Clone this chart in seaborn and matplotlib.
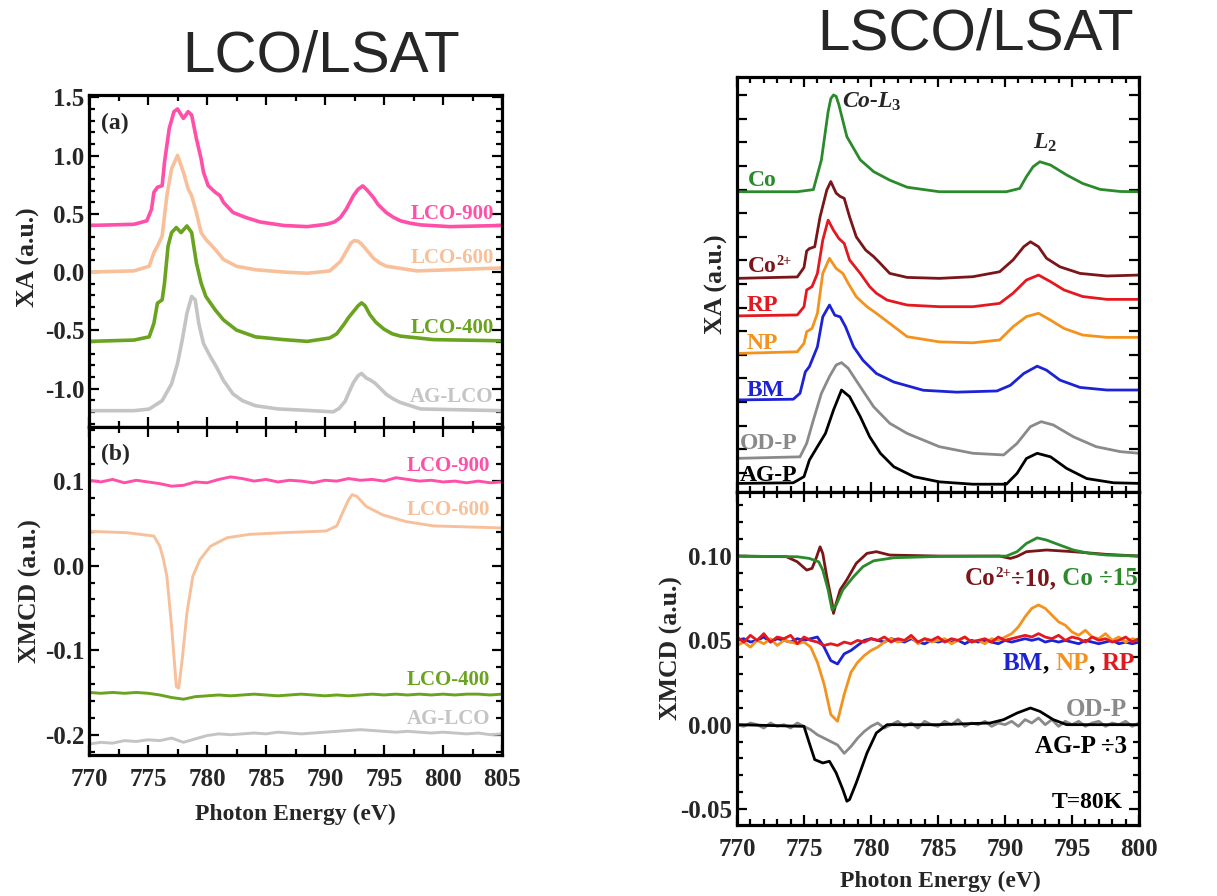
import numpy as np
import matplotlib
matplotlib.use("Agg")
import matplotlib.pyplot as plt
from matplotlib.ticker import MultipleLocator, FormatStrFormatter, FixedLocator
import seaborn as sns

'''
Co L-edge XA / XMCD of LCO/LSAT and LSCO/LSAT films
'''

#%% ---------------- data: panel (a), LCO/LSAT XA ----------------
e_900a = [770, 773.8, 774.9, 775.3, 775.5, 775.8, 776.2, 776.4, 776.8, 777.2, 777.5, 778.0, 778.4, 778.7,
          779.1, 779.5, 779.7, 780.1, 780.7, 781.1, 781.4, 782.2, 783.3, 784.5, 786.5, 788.5, 790.1, 790.8,
          791.3, 791.8, 792.4, 792.8, 793.2, 793.6, 794.1, 794.5, 795.2, 795.8, 796.4, 797.2, 798.1, 800.6, 805]
xa_900 = [0.40, 0.41, 0.44, 0.54, 0.685, 0.728, 0.742, 0.944, 1.233, 1.377, 1.40, 1.319, 1.377, 1.348,
          1.146, 0.973, 0.858, 0.742, 0.685, 0.656, 0.598, 0.512, 0.468, 0.43, 0.40, 0.39, 0.41, 0.43,
          0.468, 0.54, 0.655, 0.71, 0.74, 0.70, 0.64, 0.58, 0.51, 0.47, 0.44, 0.42, 0.405, 0.39, 0.40]

e_600a = [770, 773.8, 775.1, 775.5, 775.8, 776.2, 776.6, 777.0, 777.5, 778.0, 778.4, 778.7, 779.1, 779.5,
          779.9, 780.7, 781.4, 782.5, 784.1, 786.5, 788.5, 790.4, 791.3, 791.7, 792.2, 792.5, 792.8, 793.1,
          793.6, 794.1, 794.6, 795.2, 797.8, 805]
xa_600 = [0.0, 0.01, 0.05, 0.166, 0.223, 0.31, 0.656, 0.887, 1.002, 0.858, 0.714, 0.656, 0.512, 0.339,
          0.281, 0.194, 0.108, 0.05, 0.02, 0.0, -0.01, 0.01, 0.09, 0.16, 0.25, 0.27, 0.265, 0.24,
          0.18, 0.12, 0.08, 0.05, 0.01, 0.035]

e_400a = [770, 773.8, 775.1, 775.5, 775.8, 776.2, 776.4, 776.7, 777.0, 777.4, 777.8, 778.3, 778.7, 779.1,
          779.5, 779.9, 780.7, 781.4, 782.5, 784.1, 786.5, 788.5, 790.4, 791.0, 791.6, 792.0, 792.4, 792.8,
          793.1, 793.4, 793.8, 794.3, 795.0, 795.7, 796.4, 799.2, 805]
xa_400 = [-0.595, -0.584, -0.556, -0.44, -0.267, -0.238, -0.094, 0.223, 0.339, 0.382, 0.339, 0.396, 0.339, 0.079,
          -0.094, -0.209, -0.325, -0.411, -0.498, -0.556, -0.58, -0.595, -0.566, -0.53, -0.45, -0.39, -0.34, -0.29,
          -0.264, -0.29, -0.365, -0.43, -0.49, -0.53, -0.55, -0.58, -0.59]

e_aga = [770, 773.8, 775.1, 776.2, 777.0, 777.5, 777.9, 778.3, 778.7, 779.0, 779.3, 779.7, 780.3, 780.8,
         781.4, 782.2, 783.0, 784.1, 786.0, 788.0, 790.7, 791.2, 791.7, 792.0, 792.4, 792.8, 793.1, 793.5,
         793.8, 794.2, 794.7, 795.2, 795.8, 796.4, 798.1, 805]
xa_ag = [-1.19, -1.19, -1.176, -1.104, -0.959, -0.786, -0.584, -0.354, -0.209, -0.238, -0.44, -0.613, -0.729, -0.815,
         -0.931, -1.046, -1.104, -1.147, -1.175, -1.185, -1.20, -1.17, -1.11, -1.04, -0.95, -0.89, -0.87, -0.91,
         -0.925, -0.95, -1.0, -1.05, -1.09, -1.12, -1.175, -1.19]

#%% ---------------- data: panel (b), LCO/LSAT XMCD ----------------
e_b = np.arange(770, 805.5, 1.0)   # 1 eV sampling
mcd_900 = [0.101, 0.099, 0.102, 0.098, 0.101, 0.099, 0.097, 0.094, 0.095, 0.099, 0.098, 0.102,
           0.105, 0.103, 0.100, 0.102, 0.099, 0.101, 0.100, 0.098, 0.101, 0.100, 0.103, 0.101,
           0.102, 0.100, 0.104, 0.102, 0.100, 0.101, 0.099, 0.100, 0.098, 0.100, 0.098, 0.099]
mcd_400 = [-0.150, -0.151, -0.150, -0.151, -0.150, -0.151, -0.153, -0.156, -0.158, -0.155, -0.154, -0.153,
           -0.154, -0.153, -0.152, -0.153, -0.154, -0.153, -0.152, -0.153, -0.154, -0.153, -0.154, -0.153,
           -0.152, -0.153, -0.152, -0.153, -0.152, -0.153, -0.152, -0.153, -0.152, -0.152, -0.153, -0.152]
mcd_ag = [-0.211, -0.209, -0.210, -0.207, -0.208, -0.206, -0.207, -0.204, -0.209, -0.205, -0.201, -0.199,
          -0.200, -0.199, -0.198, -0.199, -0.197, -0.198, -0.199, -0.198, -0.197, -0.196, -0.195, -0.194,
          -0.195, -0.196, -0.197, -0.196, -0.197, -0.198, -0.197, -0.198, -0.199, -0.198, -0.200, -0.199]
e_600b = [770, 773.2, 775.5, 776.0, 776.3, 776.6, 777.0, 777.4, 777.6, 777.9, 778.3, 778.8, 779.4, 780.3,
          781.7, 783.6, 786.5, 790.1, 791.0, 791.6, 792.0, 792.3, 792.7, 793.5, 794.9, 796.9, 799.2, 805]
mcd_600 = [0.0406, 0.039, 0.035, 0.023, 0.008, -0.0126, -0.072, -0.143, -0.145, -0.111, -0.056, -0.0126,
           0.007, 0.023, 0.033, 0.037, 0.039, 0.041, 0.047, 0.066, 0.078, 0.084, 0.082, 0.070, 0.060,
           0.052, 0.047, 0.0446]

#%% ---------------- data: LSCO/LSAT XA (arb. offsets) ----------------
e_co = [770, 774.5, 775.7, 776.3, 776.8, 777.0, 777.2, 777.4, 777.6, 778.2, 779.2, 780.2, 781.4, 782.7,
        785.1, 790.1, 791.1, 791.6, 792.1, 792.6, 793.4, 794.6, 795.8, 797.1, 798.6, 800]
xa_co = [1.251, 1.251, 1.26, 1.386, 1.59, 1.645, 1.661, 1.655, 1.62, 1.484, 1.386, 1.336, 1.30, 1.27,
         1.251, 1.251, 1.265, 1.315, 1.357, 1.378, 1.364, 1.322, 1.286, 1.261, 1.252, 1.251]

e_co2 = [770, 774.5, 775.0, 775.2, 775.4, 775.8, 776.2, 776.7, 777.0, 777.4, 777.7, 778.0, 778.4, 778.9,
         779.6, 780.2, 780.7, 781.4, 782.7, 785.1, 787.6, 789.6, 790.6, 791.4, 791.9, 792.5, 793.1, 794.1,
         795.6, 797.6, 800]
xa_co2 = [0.884, 0.89, 0.93, 1.0, 1.01, 1.018, 1.145, 1.258, 1.294, 1.245, 1.231, 1.223, 1.145, 1.06,
          1.004, 0.976, 0.947, 0.905, 0.888, 0.884, 0.891, 0.912, 0.962, 1.018, 1.039, 1.018, 0.969, 0.933,
          0.905, 0.894, 0.898]

e_rp = [770, 774.5, 775.0, 775.2, 775.6, 776.0, 776.4, 776.8, 777.2, 777.6, 778.0, 778.4, 779.2, 779.9,
        780.4, 781.2, 782.7, 785.1, 787.6, 789.6, 790.6, 791.6, 792.5, 793.4, 794.4, 795.8, 797.6, 800]
xa_rp = [0.725, 0.729, 0.764, 0.835, 0.849, 0.905, 1.046, 1.131, 1.088, 1.053, 1.032, 0.962, 0.905, 0.849,
         0.821, 0.792, 0.771, 0.764, 0.764, 0.778, 0.821, 0.877, 0.898, 0.870, 0.835, 0.807, 0.795, 0.795]

e_np = [770, 774.5, 775.0, 775.2, 775.6, 776.0, 776.4, 776.9, 777.4, 777.9, 778.3, 778.9, 779.7, 780.4,
        781.4, 782.7, 785.1, 787.6, 789.6, 790.6, 791.6, 792.5, 793.4, 794.4, 795.8, 797.6, 800]
xa_np = [0.566, 0.573, 0.609, 0.658, 0.672, 0.736, 0.905, 0.969, 0.926, 0.905, 0.863, 0.806, 0.764, 0.736,
         0.693, 0.637, 0.615, 0.611, 0.623, 0.679, 0.722, 0.736, 0.707, 0.672, 0.644, 0.634, 0.634]

e_bm = [770, 774.2, 774.7, 775.1, 775.4, 776.0, 776.4, 776.9, 777.3, 777.7, 778.1, 778.7, 779.4, 780.4,
        781.7, 783.9, 786.4, 789.4, 790.4, 791.4, 792.4, 793.1, 794.1, 795.6, 797.6, 800]
xa_bm = [0.369, 0.372, 0.397, 0.488, 0.51, 0.594, 0.721, 0.771, 0.728, 0.721, 0.679, 0.594, 0.537, 0.481,
         0.445, 0.41, 0.402, 0.407, 0.431, 0.481, 0.512, 0.495, 0.453, 0.422, 0.411, 0.411]

e_od = [770, 774.7, 775.2, 775.7, 776.3, 776.9, 777.4, 777.8, 778.3, 779.2, 780.2, 781.4, 782.7, 785.1,
        787.6, 789.9, 790.9, 791.9, 792.7, 793.6, 795.1, 796.8, 798.6, 800]
xa_od = [0.1215, 0.128, 0.185, 0.284, 0.397, 0.468, 0.517, 0.527, 0.503, 0.425, 0.34, 0.27, 0.227, 0.171,
         0.143, 0.136, 0.185, 0.256, 0.277, 0.263, 0.213, 0.171, 0.15, 0.143]

e_agp = [770, 774.2, 775.0, 775.4, 776.0, 776.6, 777.2, 777.8, 778.4, 779.2, 779.9, 780.7, 781.7, 783.2,
         785.1, 787.6, 790.1, 790.9, 791.6, 792.4, 793.4, 794.6, 796.1, 798.1, 800]
xa_agp = [0.0155, 0.018, 0.044, 0.114, 0.171, 0.227, 0.326, 0.411, 0.383, 0.298, 0.213, 0.143, 0.086, 0.044,
          0.022, 0.012, 0.012, 0.058, 0.121, 0.143, 0.128, 0.079, 0.036, 0.018, 0.0155]

#%% ---------------- data: LSCO/LSAT XMCD ----------------
e_d = np.arange(770, 800.25, 0.5)   # 0.5 eV sampling
mcd_rp = [0.052, 0.049, 0.053, 0.050, 0.054, 0.049, 0.052, 0.051, 0.053, 0.048, 0.052,
          0.050, 0.049, 0.047, 0.048, 0.047, 0.049, 0.048, 0.050, 0.049, 0.051,
          0.050, 0.052, 0.049, 0.051, 0.050, 0.053, 0.049, 0.051, 0.050, 0.052,
          0.049, 0.051, 0.050, 0.052, 0.049, 0.050, 0.051, 0.049, 0.052, 0.050,
          0.051, 0.052, 0.053, 0.052, 0.054, 0.052, 0.051, 0.053, 0.050, 0.052,
          0.051, 0.049, 0.052, 0.050, 0.051, 0.049, 0.050, 0.052, 0.049, 0.051]
mcd_bm = [0.050, 0.051, 0.049, 0.050, 0.052, 0.049, 0.051, 0.050, 0.049, 0.051, 0.050,
          0.051, 0.052, 0.046, 0.038, 0.036, 0.042, 0.044, 0.047, 0.050, 0.051,
          0.050, 0.049, 0.051, 0.050, 0.049, 0.051, 0.049, 0.048, 0.050, 0.049,
          0.050, 0.049, 0.050, 0.048, 0.050, 0.049, 0.050, 0.049, 0.048, 0.050,
          0.049, 0.050, 0.051, 0.050, 0.051, 0.049, 0.050, 0.049, 0.050, 0.049,
          0.048, 0.050, 0.049, 0.048, 0.049, 0.050, 0.048, 0.049, 0.048, 0.049]
mcd_np = [0.047, 0.049, 0.046, 0.050, 0.048, 0.051, 0.047, 0.050, 0.049, 0.048, 0.049,
          0.046, 0.037, 0.024, 0.006, 0.002, 0.018, 0.031, 0.037, 0.041, 0.044,
          0.046, 0.049, 0.051, 0.049, 0.050, 0.052, 0.048, 0.051, 0.049, 0.050,
          0.051, 0.048, 0.050, 0.052, 0.049, 0.050, 0.048, 0.051, 0.050, 0.052,
          0.054, 0.058, 0.064, 0.069, 0.071, 0.069, 0.065, 0.061, 0.059, 0.055,
          0.053, 0.056, 0.052, 0.051, 0.054, 0.050, 0.052, 0.049, 0.051, 0.050]
mcd_od = [0.000, -0.001, 0.001, 0.000, -0.002, 0.001, -0.001, 0.000, -0.002, 0.001, -0.001,
          -0.003, -0.006, -0.008, -0.010, -0.012, -0.017, -0.013, -0.008, -0.004, -0.001,
          0.001, -0.002, 0.000, 0.002, -0.001, 0.001, -0.002, 0.002, 0.000, -0.001,
          0.002, 0.000, 0.003, -0.001, 0.001, 0.000, 0.002, -0.001, 0.001, 0.000,
          0.002, -0.001, 0.003, 0.001, 0.004, 0.000, 0.003, -0.001, 0.002, 0.000,
          0.002, -0.001, 0.001, 0.002, -0.001, 0.001, 0.000, 0.002, -0.001, 0.001]

e_co2d = [770, 773.7, 774.5, 775.2, 775.6, 775.9, 776.2, 776.4, 776.7, 777.1, 777.2, 777.4, 777.7, 778.2,
          778.9, 779.7, 780.4, 781.4, 785.1, 789.6, 790.4, 790.9, 791.6, 793.1, 795.1, 797.6, 800]
mcd_co2 = [0.100, 0.0996, 0.0966, 0.0917, 0.0927, 0.0986, 0.1055, 0.1016, 0.0878, 0.072, 0.066, 0.072, 0.080,
           0.086, 0.0957, 0.1016, 0.1026, 0.1006, 0.100, 0.100, 0.0986, 0.0998, 0.1026, 0.1036, 0.1026,
           0.101, 0.100]

e_cod = [770, 774.5, 775.4, 776.1, 776.4, 776.8, 777.1, 777.4, 777.9, 778.7, 779.4, 780.2, 781.7, 785.1,
         790.1, 790.9, 791.6, 792.4, 793.1, 794.1, 795.1, 796.3, 797.6, 800]
mcd_co = [0.100, 0.0996, 0.0986, 0.0966, 0.0917, 0.080, 0.068, 0.071, 0.080, 0.0878, 0.0937, 0.0972, 0.099,
          0.0998, 0.100, 0.1026, 0.1075, 0.1108, 0.1095, 0.1065, 0.1036, 0.1016, 0.1006, 0.100]

e_agd = [770, 775.0, 775.4, 775.8, 776.4, 776.9, 777.4, 777.9, 778.2, 778.4, 778.9, 779.7, 780.4, 781.2,
         785.0, 788.9, 789.9, 790.9, 791.9, 792.6, 793.6, 794.6, 800]
mcd_agp = [0.0, -0.001, -0.011, -0.0207, -0.0227, -0.0217, -0.0286, -0.0385, -0.0454, -0.0444, -0.0345,
           -0.0168, -0.0049, 0.0, 0.0, 0.001, 0.003, 0.0069, 0.0099, 0.0079, 0.003, 0.0, 0.0]

# colours
c900, c600, c400, cag = '#FF4FA8', '#F7C09A', '#6AA31F', '#C4C4C4'
cco, cco2, crp, cnp, cbm, cod, cagp = '#2B8A2B', '#7A1519', '#E3191F', '#F4921E', '#1C22D6', '#8A8A8A', '#000000'

#%% ---------------- style ----------------
sns.set_style('ticks')
plt.rcParams['font.family'] = ['Liberation Serif', 'DejaVu Serif']
plt.rcParams['font.weight'] = 'bold'
plt.rcParams['axes.labelweight'] = 'bold'
plt.rcParams['axes.unicode_minus'] = False
plt.rcParams['mathtext.fontset'] = 'custom'
plt.rcParams['mathtext.rm'] = 'Liberation Serif:bold'
plt.rcParams['mathtext.bf'] = 'Liberation Serif:bold'
plt.rcParams['mathtext.it'] = 'Liberation Serif:bold:italic'

W, H = 1217, 896
fig = plt.figure(figsize=(W / 100, H / 100), dpi=100)


def box(x0, x1, ytop, ybot):
    return [x0 / W, 1 - ybot / H, (x1 - x0) / W, (ybot - ytop) / H]


def draw(ax, x, y, col, lw=2.2):
    sns.lineplot(x=x, y=y, ax=ax, color=col, linewidth=lw, estimator=None, sort=False, legend=False)


def style(ax, xmin, ymaj, ymin):
    ax.tick_params(which='both', direction='in', top=True, right=True, width=1.6,
                   labelsize=18, color='k')
    ax.tick_params(which='major', length=7)
    ax.tick_params(which='minor', length=4)
    ax.tick_params(axis='x', which='major', pad=9)
    for s in ax.spines.values():
        s.set_linewidth(2.3)
        s.set_color('k')
    ax.xaxis.set_major_locator(MultipleLocator(5))
    ax.xaxis.set_minor_locator(MultipleLocator(xmin))
    if ymaj is not None:
        ax.yaxis.set_major_locator(MultipleLocator(ymaj))
        ax.yaxis.set_minor_locator(MultipleLocator(ymin))
    ax.set_xlabel('')
    ax.set_ylabel('')


def chain(ax, x, y, parts, fs=18):
    # consecutive coloured pieces; a piece flagged 'sup' is raised and smaller
    t = ax.text(x, y, parts[0][0], color=parts[0][1], fontsize=fs, ha='left', va='center')
    base = t
    for s, c, sup in parts[1:]:
        if sup:
            t = ax.annotate(s, xycoords=t, xy=(1, 0.42), va='bottom', color=c, fontsize=fs * 0.6)
        else:
            t = ax.annotate(s, xycoords=(t, base), xy=(1, 0), va='bottom', color=c, fontsize=fs)
            base = t
    return t


ax_a = fig.add_axes(box(89, 502, 95, 427))
ax_b = fig.add_axes(box(89, 502, 427, 755))
ax_c = fig.add_axes(box(737, 1139, 77, 492))
ax_d = fig.add_axes(box(737, 1139, 492, 825))

#%% ---------------- (a) ----------------
draw(ax_a, e_aga, xa_ag, cag, 2.6)
draw(ax_a, e_400a, xa_400, c400, 2.6)
draw(ax_a, e_600a, xa_600, c600, 2.6)
draw(ax_a, e_900a, xa_900, c900, 2.6)
style(ax_a, 2.5, 0.5, 0.1)
ax_a.set_xlim(770, 805)
ax_a.set_ylim(-1.33, 1.52)
ax_a.yaxis.set_major_formatter(FormatStrFormatter('%.1f'))
ax_a.tick_params(labelbottom=False)
ax_a.set_ylabel('XA (a.u.)', fontsize=18.5)
ax_a.yaxis.set_label_coords(-0.119, 0.51)
ax_a.text(771.0, 1.28, '(a)', fontsize=17, va='center', ha='left')
for lab, yy, cc in [('LCO-900', 0.50, c900), ('LCO-600', 0.12, c600),
                    ('LCO-400', -0.48, c400), ('AG-LCO', -1.07, cag)]:
    ax_a.text(804.3, yy, lab, color=cc, fontsize=15, ha='right', va='center')

#%% ---------------- (b) ----------------
draw(ax_b, e_b, mcd_ag, cag, 2.1)
draw(ax_b, e_b, mcd_400, c400, 2.1)
draw(ax_b, e_600b, mcd_600, c600, 2.1)
draw(ax_b, e_b, mcd_900, c900, 2.1)
style(ax_b, 2.5, 0.1, 0.02)
ax_b.set_xlim(770, 805)
ax_b.set_ylim(-0.224, 0.164)
ax_b.yaxis.set_major_formatter(FormatStrFormatter('%.1f'))
ax_b.set_ylabel('XMCD (a.u.)', fontsize=18.5)
ax_b.yaxis.set_label_coords(-0.114, 0.5)
ax_b.set_xlabel('Photon Energy (eV)', fontsize=17)
ax_b.xaxis.set_label_coords(0.5, -0.149)
ax_b.text(771.0, 0.131, '(b)', fontsize=17, va='center', ha='left')
for lab, yy, cc in [('LCO-900', 0.1176, c900), ('LCO-600', 0.066, c600),
                    ('LCO-400', -0.135, c400), ('AG-LCO', -0.182, cag)]:
    ax_b.text(804.0, yy, lab, color=cc, fontsize=15, ha='right', va='center')

#%% ---------------- LSCO XA ----------------
for ex, yv, cc in [(e_agp, xa_agp, cagp), (e_od, xa_od, cod), (e_bm, xa_bm, cbm), (e_np, xa_np, cnp),
                   (e_rp, xa_rp, crp), (e_co2, xa_co2, cco2), (e_co, xa_co, cco)]:
    draw(ax_c, ex, yv, cc, 2.0)
style(ax_c, 1, None, None)
ax_c.set_xlim(770, 800)
ax_c.set_ylim(-0.021, 1.737)
ax_c.yaxis.set_major_locator(FixedLocator(np.arange(0.06, 1.74, 0.1)))
ax_c.tick_params(labelbottom=False, labelleft=False)
ax_c.set_ylabel('XA (a.u.)', fontsize=18.5)
ax_c.yaxis.set_label_coords(-0.022, 0.5)
for lab, xx, yy, cc in [('Co', 770.8, 1.30, cco), ('RP', 770.75, 0.771, crp),
                        ('NP', 770.75, 0.61, cnp), ('BM', 770.75, 0.411, cbm), ('OD-P', 770.2, 0.186, cod),
                        ('AG-P', 770.2, 0.05, cagp)]:
    ax_c.text(xx, yy, lab, color=cc, fontsize=17, ha='left', va='center')
chain(ax_c, 770.8, 0.935, [('Co', cco2), ('2+', cco2, True)], fs=17)
ax_c.text(777.8, 1.63, r'Co-$L_3$', fontsize=17, fontstyle='italic', ha='left', va='center')
ax_c.text(792.1, 1.46, r'$L_2$', fontsize=17, ha='left', va='center')

#%% ---------------- LSCO XMCD ----------------
for ex, yv, cc in [(e_d, mcd_od, cod), (e_agd, mcd_agp, cagp), (e_d, mcd_bm, cbm), (e_d, mcd_np, cnp),
                   (e_d, mcd_rp, crp), (e_co2d, mcd_co2, cco2), (e_cod, mcd_co, cco)]:
    draw(ax_d, ex, yv, cc, 2.0)
style(ax_d, 1, 0.05, 0.01)
ax_d.set_xlim(770, 800)
ax_d.set_ylim(-0.0595, 0.138)
ax_d.yaxis.set_major_formatter(FormatStrFormatter('%.2f'))
ax_d.set_ylabel('XMCD (a.u.)', fontsize=18.5)
ax_d.yaxis.set_label_coords(-0.134, 0.53)
ax_d.set_xlabel('Photon Energy (eV)', fontsize=17)
ax_d.xaxis.set_label_coords(0.505, -0.139)

chain(ax_d, 787.0, 0.0868, [('Co', cco2), ('2+', cco2, True), ('\u00f710,', cco2, False),
                            (' Co \u00f715', cco, False)])
chain(ax_d, 789.8, 0.0365, [('BM', cbm), (', ', 'k', False), ('NP', cnp, False),
                            (', ', 'k', False), ('RP', crp, False)])
ax_d.text(799.1, 0.0089, 'OD-P', color=cod, fontsize=18, ha='right', va='center')
ax_d.text(799.1, -0.0128, 'AG-P \u00f73', color='k', fontsize=18, ha='right', va='center')
ax_d.text(798.8, -0.0464, 'T=80K', color='k', fontsize=17, ha='right', va='center')

#%% ---------------- titles ----------------
fig.text(321 / W, 1 - 72 / H, 'LCO/LSAT', fontsize=42, family='Liberation Sans', weight='normal',
         ha='center', va='baseline')
fig.text(976 / W, 1 - 50 / H, 'LSCO/LSAT', fontsize=42, family='Liberation Sans', weight='normal',
         ha='center', va='baseline')

plt.savefig('out.png', dpi=100)
